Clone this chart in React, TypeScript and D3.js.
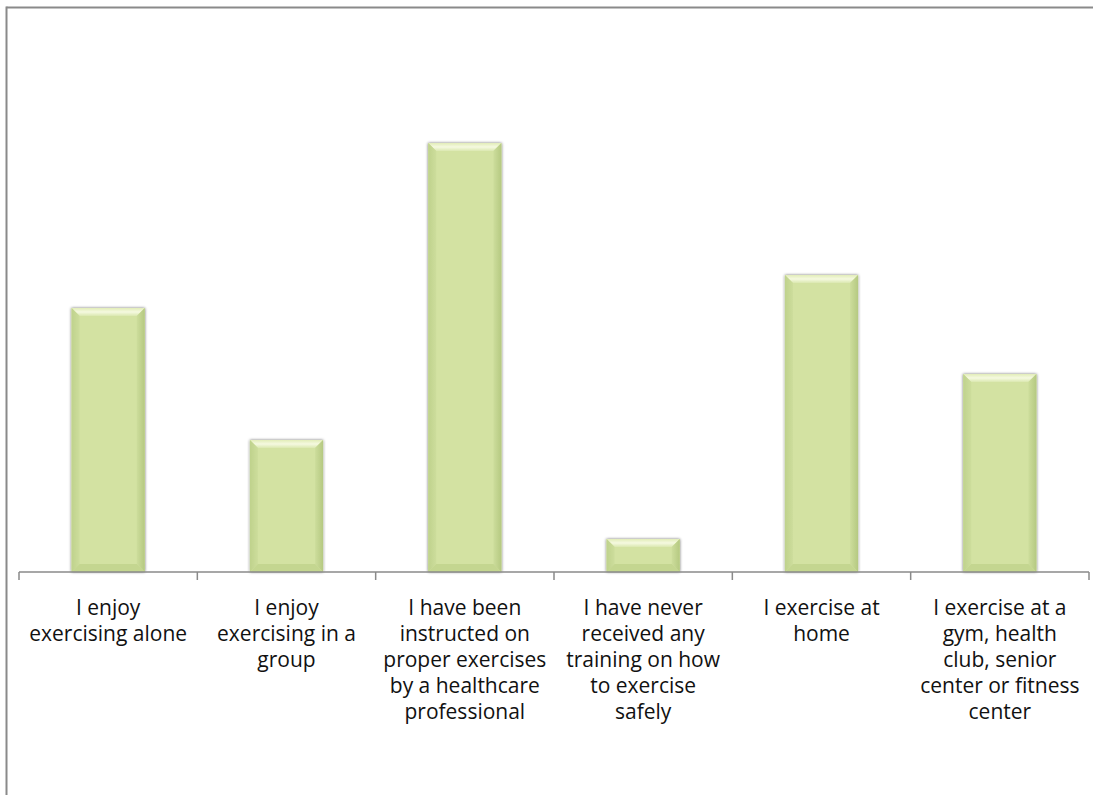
import React from "react";
import * as d3 from "d3";

const categories = [
  "I enjoy exercising alone",
  "I enjoy exercising in a group",
  "I have been instructed on proper exercises by a healthcare professional",
  "I have never received any training on how to exercise safely",
  "I exercise at home",
  "I exercise at a gym, health club, senior center or fitness center",
];
const values = [8, 4, 13, 1, 9, 6];
const tickLabels = [
  ["I enjoy", "exercising alone"],
  ["I enjoy", "exercising in a", "group"],
  ["I have been", "instructed on", "proper exercises", "by a healthcare", "professional"],
  ["I have never", "received any", "training on how", "to exercise", "safely"],
  ["I exercise at", "home"],
  ["I exercise at a", "gym, health", "club, senior", "center or fitness", "center"],
];

const W = 1093;
const H = 795;
const x0 = 19;
const x1 = 1089;
const baseY = 572;

export default function App() {
  const x = d3.scaleBand<string>().domain(categories).range([x0, x1]).paddingInner(0.59).paddingOuter(0.295);
  const y = d3.scaleLinear().domain([0, 14]).range([baseY, 110]);
  const ticks = d3.range(categories.length + 1).map((i) => x0 + i * ((x1 - x0) / categories.length));
  const bev = 8;

  return (
    <svg width={W} height={H} style={{ position: "absolute", left: 0, top: 0, background: "#fff" }}>
      <defs>
        <filter id="sh" x="-20%" y="-20%" width="140%" height="140%">
          <feGaussianBlur in="SourceAlpha" stdDeviation="1.5" />
          <feComponentTransfer>
            <feFuncA type="linear" slope="0.55" />
          </feComponentTransfer>
          <feMerge>
            <feMergeNode />
            <feMergeNode in="SourceGraphic" />
          </feMerge>
        </filter>
        <linearGradient id="topG" x1="0" y1="0" x2="0" y2="1">
          <stop offset="0" stopColor="#e2edb8" />
          <stop offset="0.5" stopColor="#f5f9e0" />
          <stop offset="1" stopColor="#dbe8b0" />
        </linearGradient>
        <linearGradient id="leftG" x1="0" y1="0" x2="1" y2="0">
          <stop offset="0" stopColor="#bfd28c" />
          <stop offset="1" stopColor="#cddd9c" />
        </linearGradient>
        <linearGradient id="rightG" x1="0" y1="0" x2="1" y2="0">
          <stop offset="0" stopColor="#cddd9c" />
          <stop offset="1" stopColor="#b5c981" />
        </linearGradient>
      </defs>
      <line x1={6.5} x2={W} y1={7.5} y2={7.5} stroke="#8a8a8a" strokeWidth={2} />
      <line x1={6.5} x2={6.5} y1={6.5} y2={H} stroke="#8a8a8a" strokeWidth={2} />

      {categories.map((c, i) => {
        const bx = x(c)!;
        const bw = x.bandwidth();
        const ty = y(values[i]);
        const by = y(0);
        const h = by - ty;
        const b = Math.min(bev, h / 2);
        return (
          <g key={c} filter="url(#sh)">
            <rect x={bx} y={ty} width={bw} height={h} fill="#d3e2a2" />
            <polygon points={`${bx},${ty} ${bx + bw},${ty} ${bx + bw - b},${ty + b} ${bx + b},${ty + b}`} fill="url(#topG)" />
            <polygon points={`${bx},${ty} ${bx + b},${ty + b} ${bx + b},${by - b} ${bx},${by}`} fill="url(#leftG)" />
            <polygon points={`${bx + bw},${ty} ${bx + bw - b},${ty + b} ${bx + bw - b},${by - b} ${bx + bw},${by}`} fill="url(#rightG)" />
            <polygon points={`${bx},${by} ${bx + b},${by - b} ${bx + bw - b},${by - b} ${bx + bw},${by}`} fill="#c4d690" />
          </g>
        );
      })}

      <line x1={x0} x2={x1} y1={baseY} y2={baseY} stroke="#8a8a8a" strokeWidth={1.5} />
      {ticks.map((t, i) => (
        <line key={i} x1={t} x2={t} y1={baseY} y2={baseY + 8} stroke="#8a8a8a" strokeWidth={1.5} />
      ))}

      {categories.map((c, i) => {
        const cx = x(c)! + x.bandwidth() / 2;
        return (
          <text key={c} x={cx} y={615} textAnchor="middle" fontFamily="'Open Sans', 'Noto Sans', sans-serif" fontSize={21} fill="#111">
            {tickLabels[i].map((ln, j) => (
              <tspan key={j} x={cx} y={615 + j * 26}>
                {ln}
              </tspan>
            ))}
          </text>
        );
      })}
    </svg>
  );
}
